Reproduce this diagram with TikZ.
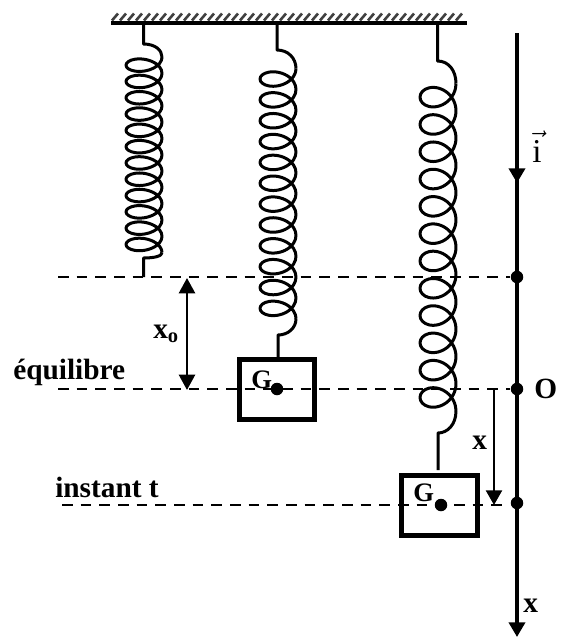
\documentclass[tikz,border=0pt]{standalone}
\usepackage{fontspec}
\setmainfont{Liberation Serif}
\usetikzlibrary{arrows.meta}
\tikzset{
  x=0.75pt,y=-0.75pt,
  px/.style={line width=#1*0.75pt},
  springline/.style={px=3,line join=round},
  dashline/.style={px=2.4,dash pattern=on 8pt off 6pt},
  axisline/.style={px=3.6},
  weight/.style={draw,px=4.8,inner sep=0pt,minimum width=0.75pt*75.5,minimum height=0.75pt*60.5},
  dot/.style={circle,fill=black,inner sep=0pt,minimum size=0.75pt*12.5},
  boldlabel/.style={font=\bfseries\fontsize{22pt}{24pt}\selectfont,inner sep=0pt,anchor=base west},
  headtip/.style={-{Triangle[length=11pt,width=12pt]}},
}
% #1 cx, #2 y0, #3 pitch, #4 b, #5 a
\newcommand{\coilpath}[5]{%
  \draw[springline] plot[smooth,samples=289,domain=0:4320,variable=\t]
    ({#1+#5*cos(\t)},{#2+\t/360*#3+#4*sin(\t)});}
\begin{document}
\begin{tikzpicture}
\useasboundingbox (0,0) rectangle (563,637);
% support
\coordinate (barL) at (111,23);
\coordinate (barR) at (467,23);
\foreach \i in {0,...,43}{
  \draw[px=2.6,gray!50!black] ({112+\i*8},20.5) -- ({118+\i*8},13.5);
}
\draw[px=3.8] (barL) -- (barR);
% spring 1
\coordinate (s1a) at (143.5,23);
\coordinate (s1b) at (143.5,44);
\coordinate (s1c) at (162,57);
\coordinate (s1d) at (162,252.6);
\coordinate (s1e) at (143.5,258);
\coordinate (s1f) at (143.5,277);
\draw[springline] (s1a) -- (s1b) .. controls (155,44) and (162,50) .. (s1c);
\coilpath{144}{57}{16.3}{10}{18}
\draw[springline] (s1d) .. controls (162,256) and (155,258) .. (s1e) -- (s1f);
% spring 2
\coordinate (s2a) at (277,23);
\coordinate (s2b) at (277,50);
\coordinate (s2c) at (296,68.6);
\coordinate (s2d) at (296,318.8);
\coordinate (s2e) at (278,335);
\coordinate (s2f) at (278,360);
\draw[springline] (s2a) -- (s2b) .. controls (288,50) and (296,58) .. (s2c);
\coilpath{278}{68.6}{20.85}{12}{18}
\draw[springline] (s2d) .. controls (296,328) and (288,335) .. (s2e) -- (s2f);
% spring 3
\coordinate (s3a) at (437.5,23);
\coordinate (s3b) at (437.5,61);
\coordinate (s3c) at (456,83.5);
\coordinate (s3d) at (456,411.1);
\coordinate (s3e) at (438,433);
\coordinate (s3f) at (438,470);
\draw[springline] (s3a) -- (s3b) .. controls (449,61) and (456,71) .. (s3c);
\coilpath{438}{83.5}{27.3}{16}{18}
\draw[springline] (s3d) .. controls (456,425) and (447,433) .. (s3e) -- (s3f);
% dashed levels
\coordinate (l1a) at (58,277);
\coordinate (l2a) at (58,389);
\coordinate (l3a) at (62,505);
\coordinate (l3b) at (503,505);
\node[dot] (d1) at (517,277) {};
\node[dot] (d2) at (517,389) {};
\node[dot] (d3) at (517,503) {};
\draw[dashline] (l1a) -- (d1);
\draw[dashline] (l2a) -- (d2);
\draw[dashline] (l3a) -- (l3b);
% weights
\node[weight] (m1) at (277,389.5) {};
\node[weight] (m2) at (439.5,505.5) {};
\node[dot] (g1) at (277,389) {};
\node[dot] (g2) at (441,505) {};
\node[boldlabel] (tg1) at (251,388) {\fontsize{20pt}{22pt}\selectfont G};
\node[boldlabel] (tg2) at (413,501) {\fontsize{20pt}{22pt}\selectfont G};
% axis
\coordinate (axT) at (517,33);
\coordinate (axM) at (517,183);
\coordinate (axB) at (517,637);
\draw[axisline,headtip] (axT) -- (axM);
\draw[axisline,headtip] (axT) -- (axB);
% x0 arrow
\coordinate (x0a) at (187,278);
\coordinate (x0b) at (187,390);
\draw[px=2.6,{Triangle[length=11.5pt,width=12pt]}-{Triangle[length=11.5pt,width=12pt]}] (x0a) -- (x0b);
% x arrow
\coordinate (xa) at (494,389);
\coordinate (xb) at (494,505);
\draw[px=2.4,headtip] (xa) -- (xb);
% labels
\node[boldlabel] (leq) at (13,379) {équilibre};
\node[boldlabel] (lin) at (55,497) {instant t};
\node[boldlabel] (lx0) at (153,338) {x\textsubscript{o}};
\node[boldlabel] (lO) at (534,398) {O};
\node[boldlabel] (lx) at (472,449) {x};
\node[boldlabel] (lxx) at (523,612) {x};
\node[font=\fontsize{25pt}{27pt}\selectfont,inner sep=0pt,anchor=base west] (li) at (532,162) {$\vec{\mathrm{i}}$};
\end{tikzpicture}
\end{document}
